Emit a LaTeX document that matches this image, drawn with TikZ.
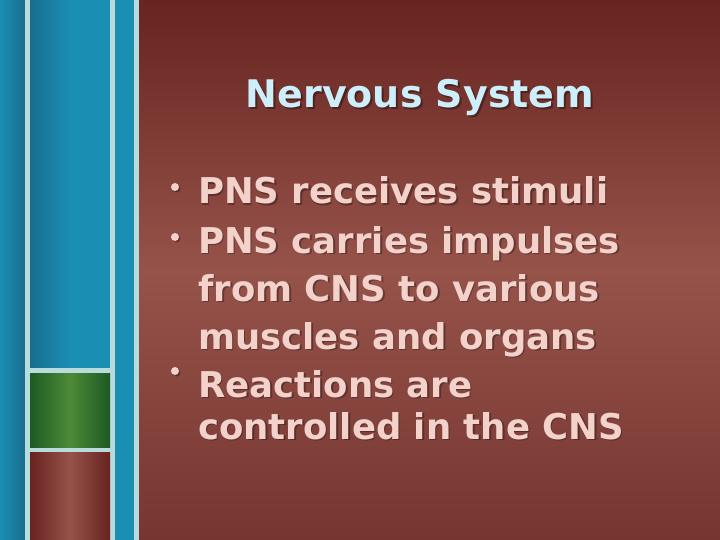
\documentclass[tikz,border=0pt]{standalone}
\usepackage{fontspec}
\setmainfont{DejaVu Sans}
\definecolor{bluebg}{HTML}{1B8EB4}
\definecolor{bluedk}{HTML}{186E8E}
\definecolor{sepc}{HTML}{B8DCDC}
\definecolor{greenc}{HTML}{4E8A36}
\definecolor{greendk}{HTML}{1D5A24}
\definecolor{browntop}{HTML}{672420}
\definecolor{brownmid}{HTML}{95534A}
\definecolor{brownbot}{HTML}{763530}
\definecolor{titlec}{HTML}{CDEEFB}
\definecolor{bodyc}{HTML}{F2D2CA}
\begin{document}
\begin{tikzpicture}[x=1pt,y=-1pt,
  body/.style={anchor=base west,inner sep=0,text=bodyc,font=\bfseries\fontsize{35.5}{40}\selectfont},
  shadow/.style={anchor=base west,inner sep=0,text=black,opacity=0.3,font=\bfseries\fontsize{35.5}{40}\selectfont},
  sep/.style={fill=sepc,draw=none}]
\useasboundingbox (0,0) rectangle (720,540);
% main background
\shade[top color=browntop,bottom color=brownmid,draw=none] (139,0) rectangle (720,270);
\shade[top color=brownmid,bottom color=brownbot,draw=none] (139,270) rectangle (720,540);
% left strips
\fill[bluebg] (0,0) rectangle (139,540);
\shade[left color=bluedk,right color=bluebg,draw=none] (30,0) rectangle (70,368);
\fill[bluebg] (70,0) rectangle (110,368);
\shade[left color=bluebg,right color=bluedk,draw=none] (0,0) rectangle (25,540);
\fill[sep] (25,0) rectangle (30,540);
\fill[sep] (110,0) rectangle (115,540);
\fill[sep] (134,0) rectangle (139,540);
\fill[sep] (30,368) rectangle (110,373);
\fill[sep] (30,447) rectangle (110,452);
\shade[left color=greendk,right color=greenc,draw=none] (30,373) rectangle (70,447);
\shade[left color=greenc,right color=greendk,draw=none] (70,373) rectangle (110,447);
\shade[left color=browntop,right color=brownmid,draw=none] (30,452) rectangle (70,540);
\shade[left color=brownmid,right color=browntop,draw=none] (70,452) rectangle (110,540);
% title
\node[text=black,opacity=0.35,font=\bfseries\fontsize{38}{44}\selectfont,inner sep=0] (ts) at (422,99.5) {Nervous System};
\node[text=titlec,font=\bfseries\fontsize{38}{44}\selectfont,inner sep=0] (title) at (420,98) {Nervous System};
% bullets
\foreach \yy in {187,237,371}{
  \fill[black,opacity=0.3] (176.5,\yy+1.5) circle (4);
  \fill[bodyc] (175,\yy) circle (4);
}
% body shadows
\node[shadow] (s1) at (199.5,205.5) {PNS receives stimuli};
\node[shadow] (s2) at (199.5,254.5) {PNS carries impulses};
\node[shadow] (s3) at (199.5,302.5) {from CNS to various};
\node[shadow] (s4) at (199.5,350.5) {muscles and organs};
\node[shadow] (s5) at (199.5,398.5) {Reactions are};
\node[shadow] (s6) at (199.5,440.5) {controlled in the CNS};
% body text
\node[body] (b1) at (198,204) {PNS receives stimuli};
\node[body] (b2) at (198,253) {PNS carries impulses};
\node[body] (b3) at (198,301) {from CNS to various};
\node[body] (b4) at (198,349) {muscles and organs};
\node[body] (b5) at (198,397) {Reactions are};
\node[body] (b6) at (198,439) {controlled in the CNS};
\end{tikzpicture}
\end{document}
